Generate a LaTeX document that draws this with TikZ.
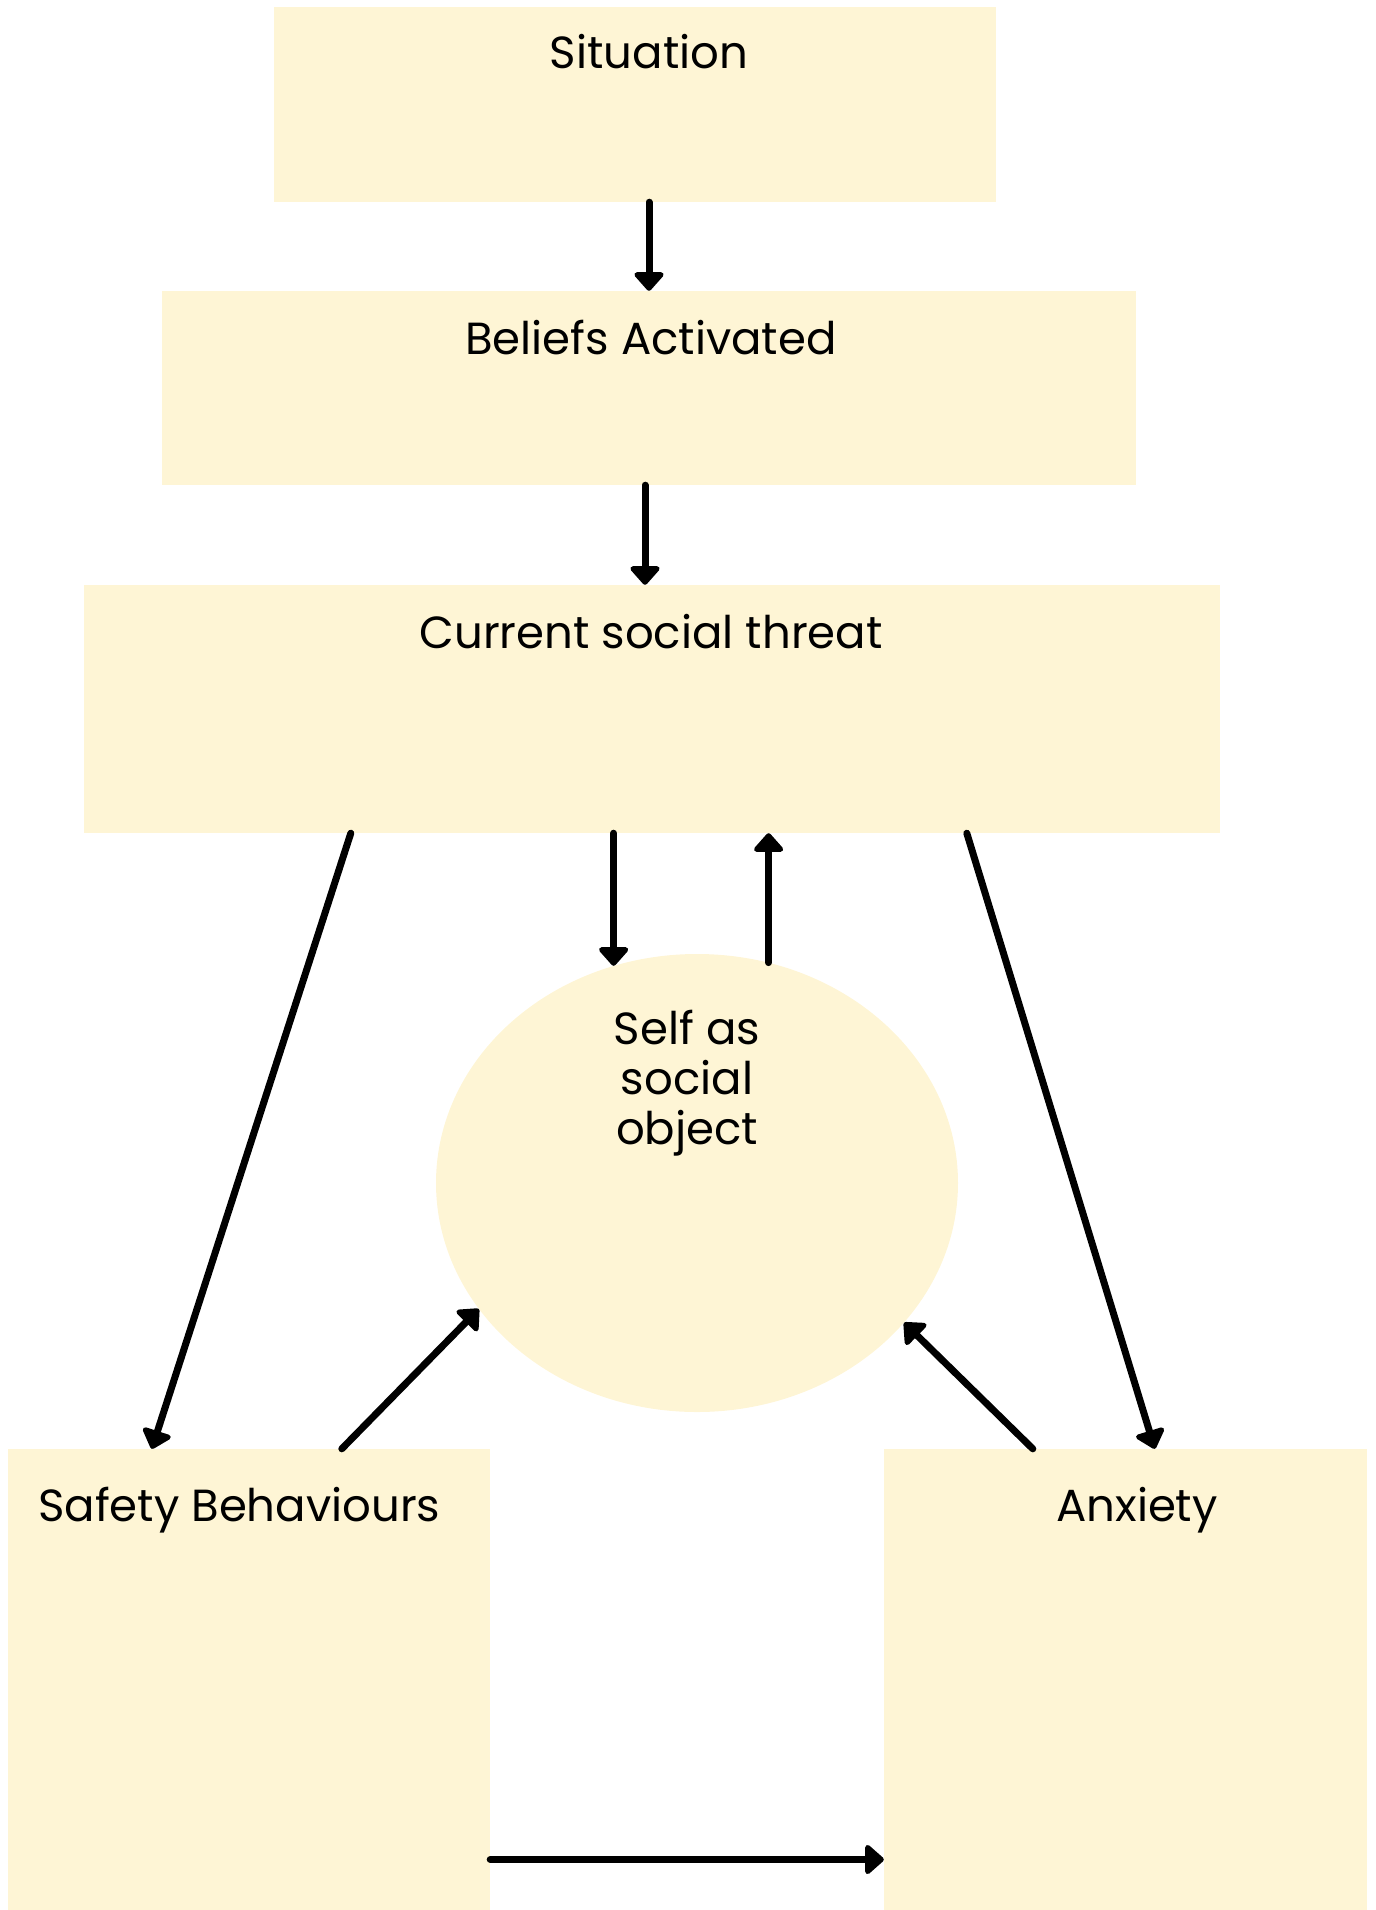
\documentclass[tikz,border=0pt]{standalone}
\usepackage{fontspec}
\setmainfont{Poppins}
\usetikzlibrary{arrows.meta,shapes.geometric}
\definecolor{boxfill}{HTML}{FEF5D5}

\begin{document}
\begin{tikzpicture}[x=1pt,y=-1pt,
    box/.style={fill=boxfill,inner sep=0pt,minimum width=#1},
    txt/.style={font=\fontsize{45}{50}\selectfont,anchor=base,inner sep=0pt},
    arr/.style={line width=7pt,line cap=round,-{Triangle[round,length=20pt,width=34pt]}}]
      \useasboundingbox (0,0) rectangle (1375,1910);
      \node[box=722pt,minimum height=195pt] (sit) at (635,104.5) {};
      \node[box=974pt,minimum height=194pt] (bel) at (649,388) {};
      \node[box=1136pt,minimum height=248pt] (threat) at (652,709) {};
      \node[ellipse,box=522pt,minimum height=458pt] (self) at (697,1183) {};
      \node[box=482pt,minimum height=461pt] (safe) at (249,1679.5) {};
      \node[box=483pt,minimum height=461pt] (anx) at (1125.5,1679.5) {};
      \node[txt] (sittxt) at (649,69) {Situation};
      \node[txt] (beltxt) at (651,354) {Beliefs Activated};
      \node[txt] (threattxt) at (651,648) {Current social threat};
      \node[txt,align=center,anchor=north] (selftxt) at (687,1010) {Self as\\social\\object};
      \node[txt,anchor=base west] (safetxt) at (38,1521) {Safety Behaviours};
      \node[txt] (anxtxt) at (1137,1521) {Anxiety};
      \draw[arr] ([xshift=14pt]sit.south) -- ([xshift=14pt]sit.south |- bel.north);
      \draw[arr] ([xshift=-4pt]bel.south) -- ([xshift=-4pt]bel.south |- threat.north);
      \draw[arr] (threat.south -| self.111) -- (self.111);
      \draw[arr] (self.72) -- (threat.south -| self.72);
      \draw[arr] ([xshift=267pt]threat.south west) -- ([xshift=144pt]safe.north west);
      \draw[arr] ([xshift=883pt]threat.south west) -- ([xshift=271pt]anx.north west);
      \draw[arr] ([xshift=334pt]safe.north west) -- (self.210);
      \draw[arr] ([xshift=149pt]anx.north west) -- (self.326);
      \draw[arr] ([yshift=-180pt]safe.east) -- ([yshift=-180pt]anx.west);
    \end{tikzpicture}
\end{document}
